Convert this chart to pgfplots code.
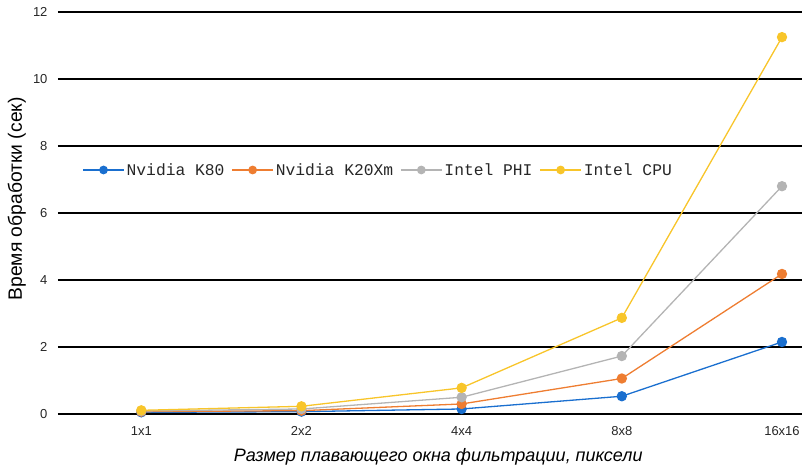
\documentclass[border=0pt]{standalone}
\usepackage{fontspec}
\setmainfont{Liberation Sans}
\setmonofont{Liberation Mono}
\usepackage{pgfplots}
\pgfplotsset{compat=1.18}
\definecolor{cK}{HTML}{1A6FCF}
\definecolor{cO}{HTML}{EE7D31}
\definecolor{cG}{HTML}{B4B4B4}
\definecolor{cY}{HTML}{F8C52A}
\begin{document}
\begin{tikzpicture}
\useasboundingbox (0,0) rectangle (802pt,467pt);
\begin{axis}[
  at={(58pt,53pt)}, anchor=south west,
  scale only axis, width=744pt, height=402pt,
  xmin=-0.52, xmax=4.125, ymin=0, ymax=12,
  xtick={0,1,2,3,4}, xticklabels={1x1,2x2,4x4,8x8,16x16},
  ytick={0,2,4,6,8,10,12},
  /pgf/number format/assume math mode=true,
  ymajorgrids, grid style={black, line width=1.6pt},
  axis line style={draw=none},
  major tick length=0pt,
  tick label style={font=\fontsize{13}{15}\selectfont, text=black!85},
  xticklabel style={yshift=-9pt},
  yticklabel style={xshift=-7pt},
  xlabel={\itshape Размер плавающего окна фильтрации, пиксели},
  ylabel={Время обработки (сек)},
  xlabel style={font=\fontsize{18}{20}\selectfont, at={(axis description cs:0.511,-0.117)}, anchor=base},
  ylabel style={font=\fontsize{19.3}{21}\selectfont, at={(axis description cs:-0.0484,0.535)}, anchor=base},
  legend columns=4,
  legend style={at={(0.0325,0.607)}, anchor=west, draw=none, fill=none,
    font=\ttfamily\fontsize{16.3}{18}\selectfont, text=black!85,
    /tikz/every even column/.append style={column sep=5pt},
    inner sep=0pt},
  legend cell align=left,
  legend image code/.code={\draw[mark repeat=2,mark phase=2,mark size=3.7pt] plot coordinates {(0pt,0pt) (20.5pt,0pt) (41pt,0pt)};},
  every axis plot/.append style={line width=1.3pt, mark=*, mark size=4.5pt},
  clip=false,
]
\addplot[color=cK, mark options={fill=cK, draw=cK}] coordinates {(0,0.05) (1,0.07) (2,0.15) (3,0.53) (4,2.15)};
\addplot[color=cO, mark options={fill=cO, draw=cO}] coordinates {(0,0.07) (1,0.10) (2,0.30) (3,1.06) (4,4.18)};
\addplot[color=cG, mark options={fill=cG, draw=cG}] coordinates {(0,0.09) (1,0.15) (2,0.50) (3,1.73) (4,6.80)};
\addplot[color=cY, mark options={fill=cY, draw=cY}] coordinates {(0,0.11) (1,0.23) (2,0.78) (3,2.87) (4,11.25)};
\legend{Nvidia K80, Nvidia K20Xm, Intel PHI, Intel CPU}
\end{axis}
\end{tikzpicture}
\end{document}
